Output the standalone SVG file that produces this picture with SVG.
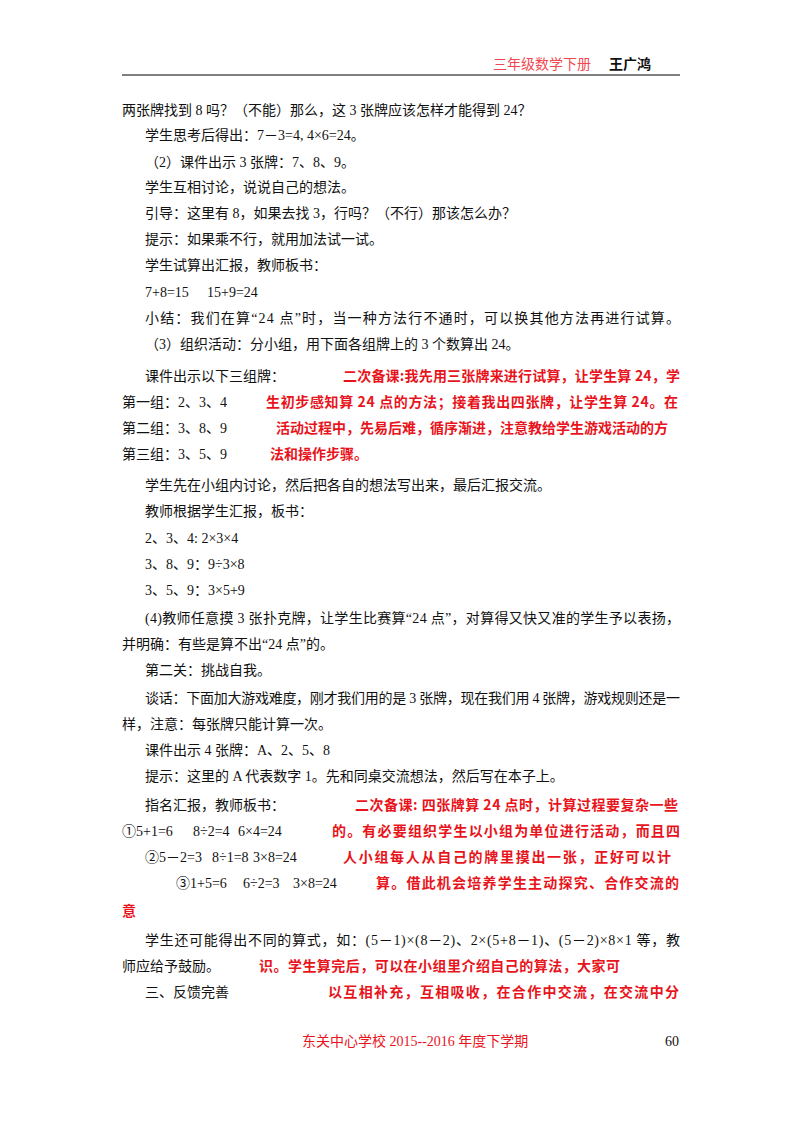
<svg xmlns="http://www.w3.org/2000/svg" width="800" height="1132" viewBox="0 0 800 1132">
<style>
text{font-family:"Liberation Serif","Noto Sans CJK SC",serif;font-size:14px;fill:#111}
.r{fill:#e8141c;font-weight:bold;font-family:"Noto Sans CJK SC",sans-serif}
</style>
<rect width="800" height="1132" fill="#fff"/>
<text x="493" y="69" style="fill:#f04850">三年级数学下册</text>
<text x="609" y="69" style="font-weight:bold;font-family:'Noto Sans CJK SC',sans-serif">王广鸿</text>
<line x1="122" y1="75" x2="680" y2="75" stroke="#555" stroke-width="1.5"/>
<g>
<text x="122" y="115">两张牌找到 8 吗？（不能）那么，这 3 张牌应该怎样才能得到 24？</text>
<text x="145" y="140">学生思考后得出：7－3=4, 4×6=24。</text>
<text x="145" y="167">（2）课件出示 3 张牌：7、8、9。</text>
<text x="145" y="192">学生互相讨论，说说自己的想法。</text>
<text x="145" y="218">引导：这里有 8，如果去找 3，行吗？（不行）那该怎么办？</text>
<text x="145" y="244">提示：如果乘不行，就用加法试一试。</text>
<text x="145" y="270">学生试算出汇报，教师板书：</text>
<text x="145" y="297">7+8=15<tspan x="207">15+9=24</tspan></text>
<text x="145" y="323" textLength="535" lengthAdjust="spacing">小结：我们在算“24 点”时，当一种方法行不通时，可以换其他方法再进行试算。</text>
<text x="145" y="349">（3）组织活动：分小组，用下面各组牌上的 3 个数算出 24。</text>
<text x="145" y="381">课件出示以下三组牌：</text>
<text x="122" y="407">第一组：2、3、4</text>
<text x="122" y="433">第二组：3、8、9</text>
<text x="122" y="459">第三组：3、5、9</text>
<text class="r" x="343" y="381" textLength="337" lengthAdjust="spacing">二次备课:我先用三张牌来进行试算，让学生算 24，学</text>
<text class="r" x="266" y="407" textLength="412" lengthAdjust="spacing">生初步感知算 24 点的方法；接着我出四张牌，让学生算 24。在</text>
<text class="r" x="276" y="433" textLength="392" lengthAdjust="spacing">活动过程中，先易后难，循序渐进，注意教给学生游戏活动的方</text>
<text class="r" x="270" y="459">法和操作步骤。</text>
<text x="145" y="490">学生先在小组内讨论，然后把各自的想法写出来，最后汇报交流。</text>
<text x="145" y="516">教师根据学生汇报，板书：</text>
<text x="145" y="543">2、3、4: 2×3×4</text>
<text x="145" y="569">3、8、9：9÷3×8</text>
<text x="145" y="595">3、5、9：3×5+9</text>
<text x="145" y="623" textLength="535" lengthAdjust="spacing">(4)教师任意摸 3 张扑克牌，让学生比赛算“24 点”，对算得又快又准的学生予以表扬，</text>
<text x="122" y="649">并明确：有些是算不出“24 点”的。</text>
<text x="145" y="675">第二关：挑战自我。</text>
<text x="145" y="703" textLength="535" lengthAdjust="spacing">谈话：下面加大游戏难度，刚才我们用的是 3 张牌，现在我们用 4 张牌，游戏规则还是一</text>
<text x="122" y="729">样，注意：每张牌只能计算一次。</text>
<text x="145" y="755">课件出示 4 张牌：A、2、5、8</text>
<text x="145" y="781">提示：这里的 A 代表数字 1。先和同桌交流想法，然后写在本子上。</text>
<text x="145" y="810">指名汇报，教师板书：</text>
<text x="122" y="836">①5+1=6<tspan x="193">8÷2=4</tspan><tspan x="238">6×4=24</tspan></text>
<text x="145" y="862">②5－2=3<tspan x="212">8÷1=8</tspan><tspan x="253">3×8=24</tspan></text>
<text x="176" y="888">③1+5=6<tspan x="243">6÷2=3</tspan><tspan x="293">3×8=24</tspan></text>
<text class="r" x="355" y="810" textLength="323" lengthAdjust="spacing">二次备课:  四张牌算 24 点时，计算过程要复杂一些</text>
<text class="r" x="332" y="836" textLength="348" lengthAdjust="spacing">的。有必要组织学生以小组为单位进行活动，而且四</text>
<text class="r" x="343" y="862" textLength="328" lengthAdjust="spacing">人小组每人从自己的牌里摸出一张，正好可以计</text>
<text class="r" x="376" y="888" textLength="303" lengthAdjust="spacing">算。借此机会培养学生主动探究、合作交流的</text>
<text class="r" x="122" y="916">意</text>
<text x="145" y="945" textLength="535" lengthAdjust="spacing">学生还可能得出不同的算式，如：(5－1)×(8－2)、2×(5+8－1)、(5－2)×8×1 等，教</text>
<text x="122" y="971">师应给予鼓励。</text>
<text class="r" x="259" y="971" textLength="361" lengthAdjust="spacing">识。学生算完后，可以在小组里介绍自己的算法，大家可</text>
<text x="145" y="997">三、反馈完善</text>
<text class="r" x="328" y="997" textLength="351" lengthAdjust="spacing">以互相补充，互相吸收，在合作中交流，在交流中分</text>
</g>
<text x="302" y="1046" style="fill:#e8141c">东关中心学校 2015--2016 年度下学期</text>
<text x="665" y="1046">60</text>
</svg>
